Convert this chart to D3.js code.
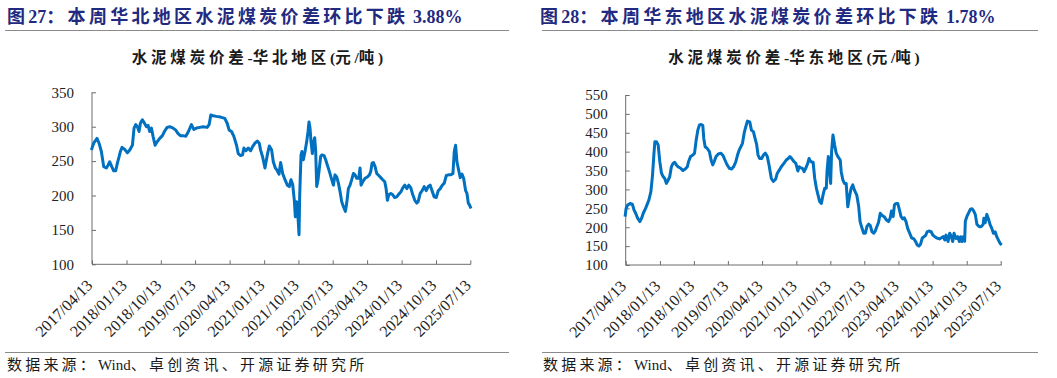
<!DOCTYPE html>
<html><head><meta charset="utf-8">
<script src="https://cdn.jsdelivr.net/npm/d3@7"></script>
<style>body{margin:0;background:#fff}svg{display:block}</style>
</head><body><svg id="c" width="1057" height="378"></svg>
<script>
const figureTitles = ["图27：本周华北地区水泥煤炭价差环比下跌 3.88%", "图28：本周华东地区水泥煤炭价差环比下跌 1.78%"];
const chartTitles = ["水泥煤炭价差-华北地区(元/吨)", "水泥煤炭价差-华东地区(元/吨)"];
const sourceText = "数据来源：Wind、卓创资讯、开源证券研究所";
const xTickLabels = ["2017/04/13","2018/01/13","2018/10/13","2019/07/13","2020/04/13","2021/01/13","2021/10/13","2022/07/13","2023/04/13","2024/01/13","2024/10/13","2025/07/13"];
const northYTicks = [100,150,200,250,300,350];
const eastYTicks = [100,150,200,250,300,350,400,450,500,550];

// dates as decimal years
const northDates = [2017.266,2017.316,2017.389,2017.433,2017.484,2017.535,2017.593,2017.629,2017.666,2017.710,2017.753,2017.797,2017.833,2017.870,2017.899,2017.935,2017.993,2018.052,2018.103,2018.161,2018.197,2018.234,2018.270,2018.306,2018.336,2018.379,2018.416,2018.467,2018.503,2018.539,2018.576,2018.612,2018.656,2018.700,2018.758,2018.816,2018.860,2018.918,2018.976,2019.049,2019.107,2019.158,2019.209,2019.267,2019.326,2019.384,2019.449,2019.500,2019.559,2019.631,2019.704,2019.792,2019.835,2019.872,2019.923,2019.995,2020.083,2020.177,2020.228,2020.272,2020.323,2020.374,2020.432,2020.469,2020.520,2020.563,2020.592,2020.636,2020.687,2020.738,2020.782,2020.833,2020.884,2020.927,2020.956,2021.000,2021.051,2021.102,2021.146,2021.197,2021.233,2021.277,2021.320,2021.357,2021.393,2021.437,2021.488,
2021.539,2021.583,2021.619,2021.656,2021.692,2021.714,2021.743,2021.765,2021.794,2021.809,2021.838,2021.859,2021.889,2021.925,2021.961,2021.991,2022.012,2022.034,2022.056,2022.085,2022.107,2022.136,2022.158,2022.180,2022.209,2022.238,2022.267,2022.296,2022.340,2022.376,2022.413,2022.456,2022.500,2022.544,2022.580,2022.617,2022.653,2022.689,2022.726,2022.762,2022.806,2022.835,2022.871,2022.908,2022.944,2022.981,2023.017,2023.053,2023.097,2023.126,2023.148,2023.184,2023.235,2023.286,2023.330,2023.359,2023.388,2023.417,2023.454,2023.490,2023.534,2023.578,2023.621,2023.665,2023.694,2023.723,2023.752,2023.796,2023.840,2023.883,2023.927,2023.971,2024.014,2024.058,2024.102,2024.145,2024.189,2024.233,2024.276,2024.320,2024.364,2024.393,2024.437,2024.480,2024.524,2024.568,2024.611,2024.655,2024.699,2024.742,2024.786,2024.830,2024.873,2024.917,2024.961,2025.004,2025.055,2025.106,2025.150,2025.179,2025.208,2025.237,2025.274,2025.310,2025.347,2025.383,2025.427,2025.456,2025.485,2025.514,2025.543];
const northValues = [266,276,283,276,264,242,240,244,249,242,236,236,247,256,264,270,267,262,266,273,298,303,300,293,305,310,306,300,302,293,298,286,273,278,283,287,293,299,300,298,295,290,287,287,286,293,303,296,298,299,300,299,303,317,316,315,314,312,305,295,293,286,273,261,258,259,269,265,269,265,271,276,279,276,266,256,240,259,272,266,249,240,236,231,248,232,223,
215,213,223,216,193,169,191,177,143,201,259,264,252,264,278,293,307,298,278,261,276,284,264,213,223,240,257,259,258,252,244,235,225,215,230,227,218,206,191,184,177,189,210,215,223,232,230,225,225,240,215,220,225,227,230,235,247,248,242,232,229,226,223,220,210,193,201,203,201,197,198,202,205,211,215,210,215,211,201,193,189,191,203,207,213,207,213,215,206,198,197,207,210,215,218,229,230,230,232,264,273,249,237,226,231,225,207,203,189,186,181];

const eastDates = [2017.266,2017.288,2017.324,2017.375,2017.426,2017.462,2017.499,2017.542,2017.593,2017.630,2017.666,2017.717,2017.761,2017.790,2017.834,2017.870,2017.899,2017.921,2017.957,2017.994,2018.030,2018.067,2018.103,2018.139,2018.176,2018.212,2018.249,2018.285,2018.321,2018.358,2018.394,2018.431,2018.489,2018.540,2018.591,2018.635,2018.664,2018.707,2018.758,2018.795,2018.831,2018.867,2018.904,2018.940,2018.977,2018.998,2019.028,2019.071,2019.122,2019.159,2019.195,2019.231,2019.268,2019.319,2019.377,2019.421,2019.464,2019.508,2019.559,2019.610,2019.654,2019.705,2019.741,2019.777,2019.814,2019.850,2019.887,2019.923,2019.959,2020.010,2020.047,2020.090,2020.127,2020.163,2020.192,2020.229,2020.272,2020.309,2020.353,2020.396,2020.433,2020.484,2020.527,2020.578,2020.615,2020.658,2020.702,2020.760,2020.811,2020.855,2020.891,2020.935,2020.979,2021.022,2021.066,2021.095,2021.124,2021.168,2021.204,2021.241,2021.284,2021.313,2021.342,2021.379,
2021.402,2021.438,2021.475,2021.511,2021.547,2021.584,2021.620,2021.657,2021.693,2021.708,2021.737,2021.766,2021.788,2021.809,2021.839,2021.875,2021.911,2021.948,2021.999,2022.021,2022.057,2022.093,2022.130,2022.166,2022.203,2022.239,2022.275,2022.312,2022.363,2022.406,2022.436,2022.479,2022.516,2022.552,2022.588,2022.625,2022.661,2022.698,2022.734,2022.770,2022.807,2022.843,2022.880,2022.916,2022.967,2023.018,2023.062,2023.098,2023.127,2023.164,2023.193,2023.229,2023.266,2023.302,2023.338,2023.375,2023.411,2023.447,2023.484,2023.528,2023.571,2023.622,2023.659,2023.695,2023.731,2023.768,2023.804,2023.841,2023.877,2023.913,2023.950,2024.001,2024.037,2024.081,2024.132,2024.183,2024.226,2024.270,2024.299,2024.328,2024.372,2024.408,2024.445,2024.474,2024.503,2024.547,2024.583,2024.620,2024.649,2024.678,2024.707,2024.736,2024.751,2024.787,2024.823,2024.860,2024.896,2024.933,2024.969,2025.005,2025.042,2025.078,2025.113,2025.144,2025.158,2025.187,2025.224,2025.261,2025.297,2025.333,2025.369,2025.406,2025.442,2025.479,2025.515,2025.551];
const eastValues = [228,250,259,263,261,246,237,224,215,224,237,250,263,272,294,338,391,426,426,418,374,343,334,329,316,324,334,360,369,372,365,360,356,350,354,360,374,387,391,396,431,457,471,472,469,435,413,409,400,378,365,375,387,394,396,390,378,366,356,354,360,374,391,404,413,422,449,466,481,479,457,453,435,418,391,382,382,391,396,387,365,329,321,327,343,351,360,369,378,382,387,381,374,369,349,360,358,356,347,356,369,382,375,372,
372,329,303,285,268,263,285,303,303,347,387,347,316,400,444,418,396,387,378,347,325,316,316,254,281,303,312,298,285,254,215,197,184,184,202,208,204,188,184,190,202,213,237,232,228,219,215,224,243,228,259,263,263,246,228,222,225,215,197,184,172,169,162,153,150,155,171,175,178,188,190,188,179,175,171,169,172,175,166,179,162,184,175,162,184,170,175,162,175,162,175,163,216,229,238,247,249,243,234,208,203,201,203,208,224,212,234,221,206,197,184,188,175,166,157,153];

const toDate = y => { const Y = Math.floor(y); const s = Date.UTC(Y,0,1), e = Date.UTC(Y+1,0,1); return new Date(s + (y - Y) * (e - s)); };
const parseTick = d3.utcParse("%Y/%m/%d");

const svg = d3.select("#c");
const CJK = "'Liberation Serif','Noto Sans CJK SC',serif";
const blue = "#0070C0";
const axisCol = "#6d6d6d";

// split text into latin / CJK runs; only CJK runs get letter spacing
function richText(sel, str, ls) {
  (str.match(/[\x00-\x7F]+|[^\x00-\x7F]+/g) || []).forEach(s => {
    sel.append("tspan").attr("letter-spacing", /[\x00-\x7F]/.test(s[0]) ? 0 : ls).text(s);
  });
  return sel;
}

const panels = [
  {lineL:5, lineR:509, srcX:7, titleX:7, subCx:257.5,
   x0:92, x1:470.3, yTop:92.3, yBot:264.3, yDom:[100,350], yTicks:northYTicks, dates:northDates, values:northValues},
  {lineL:542, lineR:1038, srcX:543, titleX:540, subCx:794,
   x0:625.7, x1:1000.7, yTop:95, yBot:265, yDom:[100,550], yTicks:eastYTicks, dates:eastDates, values:eastValues}
];

panels.forEach((p, i) => {
  const g = svg.append("g");
  richText(g.append("text").attr("x", p.titleX).attr("y", 23).attr("font-family", CJK).attr("font-weight", "bold")
    .attr("font-size", 18).attr("fill", "#1F2A80"), figureTitles[i], 3.3);
  g.append("line").attr("x1", p.lineL).attr("x2", p.lineR).attr("y1", 30.5).attr("y2", 30.5)
    .attr("stroke", "#8a8a8a").attr("stroke-width", 1);
  richText(g.append("text").attr("x", p.subCx).attr("y", 63).attr("text-anchor", "middle").attr("font-family", CJK)
    .attr("font-weight", "bold").attr("font-size", 15.5).attr("fill", "#1a1a1a"), chartTitles[i], 3.8);
  g.append("line").attr("x1", p.lineL).attr("x2", p.lineR).attr("y1", 352.5).attr("y2", 352.5)
    .attr("stroke", "#8a8a8a").attr("stroke-width", 1);
  richText(g.append("text").attr("x", p.srcX).attr("y", 370).attr("font-family", CJK)
    .attr("font-size", 15).attr("fill", "#1a1a1a"), sourceText, 3.2);

  const x = d3.scaleUtc().domain([parseTick(xTickLabels[0]), parseTick(xTickLabels[xTickLabels.length-1])]).range([p.x0, p.x1]);
  const y = d3.scaleLinear().domain(p.yDom).range([p.yBot, p.yTop]);

  const yAxis = g.append("g").attr("transform", `translate(${p.x0},0)`)
    .call(d3.axisLeft(y).tickValues(p.yTicks).tickSize(-4).tickPadding(18).tickFormat(d3.format("d")));
  yAxis.select(".domain").attr("stroke", axisCol).attr("d", `M0,${p.yTop}V${p.yBot}`);
  yAxis.selectAll(".tick line").attr("stroke", axisCol);
  yAxis.selectAll("text").attr("font-family", "'Liberation Serif',serif").attr("font-size", 15).attr("fill", "#222");

  const lastDate = toDate(p.dates[p.dates.length-1]);
  const xAxis = g.append("g").attr("transform", `translate(0,${p.yBot})`)
    .call(d3.axisBottom(x).tickValues(xTickLabels.map(parseTick)).tickSize(-4).tickFormat(d3.utcFormat("%Y/%m/%d")));
  xAxis.select(".domain").attr("stroke", axisCol).attr("d", `M${p.x0},0H${x(lastDate)}`);
  xAxis.selectAll(".tick line").attr("stroke", axisCol);
  xAxis.selectAll("text").attr("font-family", "'Liberation Serif',serif").attr("font-size", 16).attr("fill", "#222")
    .attr("text-anchor", "end").attr("dy", null).attr("y", 0)
    .attr("transform", "translate(1,22) rotate(-45)");

  const line = d3.line().x((d, k) => x(toDate(p.dates[k]))).y(d => y(d)).curve(d3.curveLinear);
  g.append("path").datum(p.values).attr("d", line).attr("fill", "none").attr("stroke", blue)
    .attr("stroke-width", 3).attr("stroke-linejoin", "round");
});
</script></body></html>
